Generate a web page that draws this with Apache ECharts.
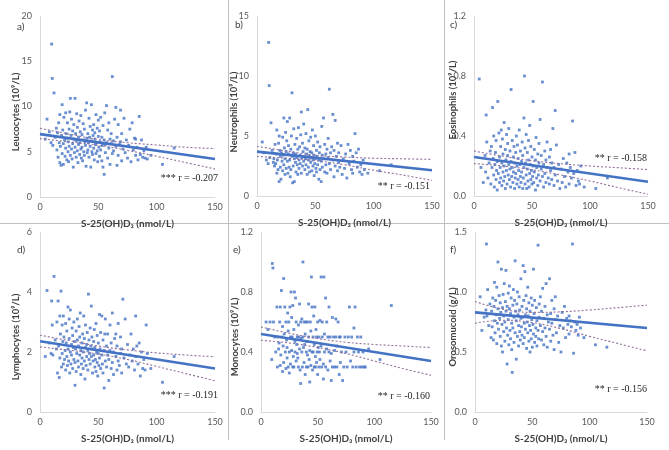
<!DOCTYPE html>
<html><head><meta charset="utf-8">
<script src="https://cdn.jsdelivr.net/npm/echarts@6/dist/echarts.min.js"></script>
<style>html,body{margin:0;padding:0;background:#fff}#c{width:669px;height:450px}</style>
</head><body><div id="c"></div><script>
// Shared x values: S-25(OH)D3 (nmol/L)
const vitD = [
 4.5, 6, 8, 9.5, 10, 10.5, 11, 12, 13, 14,
 14.5, 15, 15.5, 16, 16.5, 17, 17, 17.5, 18, 18.5, 19, 19, 19.5, 20, 20,
 20.5, 21, 21.5, 22, 22, 22.5, 23, 23, 23.5, 24, 24, 24.5, 25, 25, 25.5,
 26, 26, 26.5, 27, 27, 27.5, 28, 28, 28.5, 29, 29, 29.5, 30, 30, 30.5,
 31, 31, 31.5, 32, 32, 32.5, 33, 33, 33.5, 34, 34, 34.5, 35, 35, 35.5,
 36, 36, 36.5, 37, 37, 37.5, 38, 38, 38.5, 39, 39, 39.5, 40, 40, 40.5,
 41, 41, 41.5, 42, 42, 42.5, 43, 43, 43.5, 44, 44, 44.5, 45, 45, 45.5,
 46, 46, 46.5, 47, 47, 47.5, 48, 48, 48.5, 49, 49, 49.5, 50, 50, 50.5,
 51, 51, 51.5, 52, 52, 53, 53, 53.5, 54, 54, 55, 55, 55.5, 56, 56,
 57, 57, 58, 58, 59, 59, 60, 60, 61, 61, 62, 62, 63, 63, 64,
 65, 65, 66, 66, 67, 67, 68, 69, 69, 70, 70, 71, 72, 73, 74,
 75, 76, 77, 78, 79, 80, 81, 82, 82, 83, 84, 85, 86, 87, 88,
 89, 90, 91, 92, 95, 105, 115
];
const leucocytes = [
 6.4, 8.6, 7.2, 6.0, 16.9, 13.1, 5.7, 11.5, 6.6, 7.6,
 5.2, 7.1, 4.4, 8.2, 6.0, 3.8, 9.1, 5.6, 3.5, 6.8, 10.2, 4.8, 7.4, 3.6, 5.9,
 8.8, 6.3, 4.5, 9.3, 5.4, 7.0, 4.1, 6.5, 8.2, 5.0, 6.1, 3.9, 7.5, 5.6, 9.4,
 10.9, 4.6, 6.8, 5.3, 8.6, 4.2, 7.3, 5.9, 3.3, 6.4, 8.0, 4.9, 10.9, 5.5, 7.0,
 6.2, 4.4, 9.2, 5.1, 7.7, 3.8, 6.6, 5.8, 8.4, 4.7, 6.0, 7.2, 5.3, 9.0, 4.3,
 6.9, 5.5, 4.0, 8.1, 6.3, 5.0, 7.5, 4.6, 6.1, 9.6, 5.7, 3.4, 10.4, 6.5, 4.9,
 7.0, 5.2, 6.0, 8.7, 4.4, 6.6, 5.6, 7.8, 3.3, 10.2, 6.2, 5.0, 7.4, 4.7, 6.8,
 5.4, 8.0, 4.1, 6.4, 7.1, 5.8, 9.1, 4.8, 6.0, 7.6, 5.1, 3.9, 6.7, 8.5, 5.5,
 4.5, 7.3, 6.1, 5.2, 8.8, 6.6, 4.0, 5.7, 7.9, 3.3, 2.5, 6.3, 9.3, 4.9, 5.8,
 10.1, 6.0, 4.3, 7.4, 5.4, 8.2, 6.4, 3.6, 5.9, 7.0, 13.3, 4.8, 6.2, 5.1, 8.6,
 9.9, 5.6, 3.5, 6.6, 8.0, 4.6, 5.8, 9.6, 6.1, 4.0, 7.0, 5.3, 8.7, 4.9, 6.3,
 4.3, 5.7, 7.5, 3.9, 8.2, 5.2, 6.5, 4.6, 6.4, 5.5, 4.1, 8.9, 4.7, 6.3, 4.4,
 5.1, 4.3, 5.5, 4.2, 4.6, 3.6, 5.4
];
const neutrophils = [
 4.5, 3.6, 3.0, 2.7, 12.8, 9.2, 3.2, 6.1, 3.8, 2.8,
 3.1, 2.5, 4.3, 2.7, 3.5, 1.9, 5.5, 3.0, 2.2, 4.4, 5.0, 1.2, 3.8, 2.4, 3.3,
 1.4, 3.6, 2.9, 4.9, 2.1, 3.4, 6.5, 2.6, 4.0, 1.8, 3.1, 5.3, 2.3, 3.7, 4.6,
 2.9, 6.2, 1.9, 3.5, 4.2, 2.4, 6.5, 3.0, 1.6, 3.9, 2.2, 5.0, 8.6, 3.3, 1.1,
 3.6, 2.5, 5.6, 1.2, 3.1, 4.3, 2.8, 3.5, 2.0, 4.8, 3.2, 2.6, 3.9, 1.8, 5.7,
 3.0, 2.3, 4.1, 3.4, 2.7, 5.1, 7.0, 1.9, 3.2, 4.4, 2.5, 3.7, 2.9, 6.0, 3.3,
 4.0, 2.2, 3.1, 5.2, 2.6, 3.5, 1.8, 3.9, 7.2, 3.0, 2.4, 4.6, 3.3, 2.0, 3.7,
 2.8, 4.9, 3.2, 2.1, 3.6, 5.5, 2.5, 3.0, 4.2, 1.7, 3.4, 2.7, 5.0, 3.1, 2.3,
 3.8, 2.0, 3.3, 4.5, 2.6, 3.0, 1.4, 3.6, 2.2, 4.1, 1.2, 2.9, 5.8, 3.4, 2.4,
 6.5, 3.1, 2.0, 4.3, 3.5, 2.6, 3.9, 1.9, 3.2, 4.8, 8.9, 2.7, 3.6, 2.2, 4.1,
 6.8, 3.0, 1.6, 3.8, 6.3, 2.5, 3.3, 4.4, 2.1, 3.6, 2.8, 2.4, 4.2, 1.8, 3.1,
 2.3, 3.5, 1.5, 4.3, 2.7, 3.8, 2.2, 3.3, 1.9, 2.9, 5.2, 3.6, 2.4, 3.9, 2.0,
 2.6, 1.8, 3.0, 2.2, 1.9, 2.1, 2.6
];
const eosinophils = [
 0.78, 0.19, 0.09, 0.27, 0.16, 0.54, 0.36, 0.12, 0.22, 0.30,
 0.08, 0.33, 0.19, 0.59, 0.25, 0.14, 0.40, 0.06, 0.21, 0.29, 0.11, 0.37, 0.17, 0.04, 0.23,
 0.63, 0.15, 0.42, 0.09, 0.26, 0.19, 0.33, 0.12, 0.44, 0.07, 0.22, 0.38, 0.16, 0.28, 0.10,
 0.49, 0.20, 0.13, 0.31, 0.05, 0.24, 0.41, 0.17, 0.08, 0.27, 0.35, 0.14, 0.21, 0.45, 0.11,
 0.18, 0.30, 0.06, 0.71, 0.23, 0.13, 0.37, 0.19, 0.09, 0.26, 0.16, 0.33, 0.05, 0.22, 0.12,
 0.29, 0.15, 0.40, 0.08, 0.20, 0.34, 0.11, 0.25, 0.17, 0.06, 0.44, 0.21, 0.13, 0.30, 0.09,
 0.23, 0.16, 0.36, 0.05, 0.27, 0.12, 0.52, 0.19, 0.80, 0.08, 0.32, 0.22, 0.14, 0.41, 0.05,
 0.18, 0.29, 0.10, 0.24, 0.37, 0.06, 0.15, 0.47, 0.21, 0.11, 0.33, 0.17, 0.08, 0.26, 0.13,
 0.63, 0.20, 0.09, 0.31, 0.16, 0.04, 0.24, 0.39, 0.12, 0.19, 0.07, 0.28, 0.14, 0.22, 0.35,
 0.10, 0.51, 0.18, 0.27, 0.76, 0.13, 0.21, 0.06, 0.30, 0.15, 0.24, 0.09, 0.36, 0.19, 0.12,
 0.26, 0.08, 0.17, 0.31, 0.11, 0.22, 0.45, 0.07, 0.19, 0.57, 0.14, 0.34, 0.10, 0.21, 0.05,
 0.18, 0.09, 0.25, 0.13, 0.06, 0.22, 0.16, 0.28, 0.08, 0.19, 0.12, 0.50, 0.15, 0.29, 0.07,
 0.17, 0.10, 0.08, 0.20, 0.06, 0.05, 0.12
];
const lymphocytes = [
 1.85, 4.05, 2.3, 1.95, 3.7, 2.9, 1.9, 4.52, 2.4, 2.1,
 3.0, 1.3, 3.7, 2.2, 1.15, 3.2, 1.8, 2.6, 4.03, 1.5, 2.9, 1.95, 2.35, 1.6, 3.2,
 2.5, 1.75, 2.05, 2.95, 1.4, 2.3, 1.85, 2.7, 1.55, 3.5, 2.1, 1.7, 2.45, 3.1, 1.3,
 2.0, 3.4, 1.6, 2.25, 1.9, 2.8, 1.45, 2.55, 2.15, 1.75, 3.0, 2.35, 0.89, 1.65, 2.1,
 2.7, 1.35, 1.95, 2.4, 3.1, 1.7, 2.2, 1.5, 2.85, 1.9, 2.5, 3.3, 1.25, 2.05, 1.6,
 2.3, 1.8, 2.6, 1.45, 2.0, 3.2, 1.7, 2.45, 1.1, 2.15, 2.9, 1.55, 2.25, 1.85, 2.65,
 1.4, 2.05, 3.93, 1.75, 2.4, 1.95, 2.8, 1.6, 2.2, 3.53, 1.85, 2.5, 1.3, 2.1, 1.7,
 2.35, 1.9, 2.75, 1.5, 2.15, 1.75, 2.95, 1.35, 2.0, 1.65, 2.55, 1.2, 1.95, 2.3, 1.55,
 3.25, 1.8, 2.1, 1.45, 2.65, 1.9, 3.2, 1.6, 2.4, 1.3, 0.8, 2.05, 2.6, 1.7, 3.1,
 1.5, 2.2, 1.9, 2.6, 1.05, 1.75, 2.9, 2.05, 1.45, 2.3, 3.3, 1.65, 2.0, 1.25, 2.45,
 1.85, 2.6, 1.4, 2.2, 1.7, 2.95, 1.55, 2.5, 1.95, 1.3, 2.1, 3.76, 1.8, 3.1, 1.6,
 2.25, 1.5, 1.9, 2.6, 1.7, 2.1, 1.4, 3.2, 1.85, 2.2, 1.6, 2.3, 1.2, 2.0, 1.45,
 1.75, 1.4, 2.9, 1.95, 1.45, 0.99, 1.85
];
const monocytes = [
 0.6, 0.55, 0.6, 0.35, 0.99, 0.96, 0.6, 0.5, 0.4, 0.7,
 0.3, 0.5, 0.42, 0.46, 0.6, 0.31, 0.7, 0.38, 0.81, 0.5, 0.27, 0.57, 0.44, 0.89, 0.33,
 0.52, 0.7, 0.4, 0.29, 0.6, 0.48, 0.36, 0.43, 0.66, 0.3, 0.54, 0.6, 0.26, 0.4, 0.7,
 0.5, 0.32, 0.8, 0.41, 0.63, 0.5, 0.3, 0.71, 0.37, 0.55, 0.3, 0.8, 0.47, 0.4, 0.76,
 0.6, 0.34, 0.45, 0.5, 0.39, 0.36, 0.58, 0.3, 0.5, 0.72, 0.42, 0.28, 0.19, 0.6, 0.49,
 0.4, 0.62, 0.3, 1.0, 0.5, 0.43, 0.6, 0.33, 0.45, 0.52, 0.25, 0.6, 0.4, 0.3, 0.47,
 0.6, 0.38, 0.3, 0.72, 0.5, 0.35, 0.41, 0.2, 0.6, 0.31, 0.54, 0.9, 0.4, 0.7, 0.28,
 0.5, 0.4, 0.64, 0.3, 0.45, 0.7, 0.37, 0.3, 0.55, 0.5, 0.33, 0.4, 0.6, 0.25, 0.43,
 0.5, 0.3, 0.4, 0.61, 0.35, 0.9, 0.44, 0.3, 0.5, 0.6, 0.22, 0.32, 0.9, 0.4, 0.52,
 0.76, 0.3, 0.42, 0.6, 0.5, 0.28, 0.4, 0.7, 0.34, 0.5, 0.21, 0.39, 0.63, 0.3, 0.5,
 0.41, 0.3, 0.5, 0.62, 0.3, 0.44, 0.6, 0.5, 0.25, 0.33, 0.5, 0.4, 0.21, 0.3, 0.5,
 0.4, 0.3, 0.5, 0.7, 0.34, 0.5, 0.3, 0.4, 0.56, 0.7, 0.3, 0.5, 0.4, 0.3, 0.5,
 0.3, 0.4, 0.3, 0.3, 0.42, 0.35, 0.71
];
const orosomucoid = [
 0.96, 0.68, 0.79, 0.85, 1.40, 0.80, 1.02, 0.72, 0.90, 0.62,
 0.84, 0.71, 0.95, 0.60, 0.88, 0.76, 1.08, 0.66, 0.93, 0.81, 0.57, 1.04, 0.74, 1.25, 0.86,
 0.69, 0.97, 0.78, 0.63, 0.91, 0.83, 0.55, 1.19, 0.73, 0.87, 0.50, 0.98, 0.67, 0.80, 1.07,
 0.75, 0.59, 0.92, 0.84, 1.18, 0.70, 0.40, 0.88, 0.64, 0.99, 0.77, 0.56, 0.86, 1.05, 0.68,
 0.82, 0.61, 0.95, 0.74, 0.52, 0.33, 0.89, 0.70, 1.02, 0.79, 0.58, 0.93, 0.66, 1.26, 0.84,
 0.44, 0.76, 0.90, 0.63, 1.00, 0.81, 0.55, 0.72, 0.96, 0.67, 0.85, 0.60, 0.78, 1.11, 0.71,
 0.88, 0.64, 0.79, 1.22, 0.57, 0.93, 0.74, 0.62, 1.17, 0.81, 0.69, 0.97, 0.53, 0.86, 0.75,
 0.66, 1.04, 0.80, 0.59, 0.91, 0.72, 0.50, 0.84, 0.68, 0.95, 0.61, 0.77, 0.89, 0.54, 0.73,
 1.19, 0.65, 0.82, 0.58, 0.93, 0.70, 0.63, 0.87, 0.55, 0.76, 1.39, 0.68, 0.61, 0.90, 0.79,
 0.72, 0.96, 0.60, 0.84, 0.67, 1.03, 0.78, 0.56, 0.88, 0.70, 0.63, 1.07, 0.81, 0.54, 0.75,
 1.11, 0.69, 0.82, 0.59, 0.93, 0.74, 0.64, 0.86, 0.52, 0.77, 0.96, 0.66, 0.80, 0.58, 0.72,
 0.50, 0.83, 0.70, 0.88, 0.62, 0.78, 0.73, 0.65, 0.80, 0.76, 0.71, 1.40, 0.49, 0.75, 0.68,
 0.73, 0.64, 0.79, 0.70, 0.62, 0.56, 0.54
];

// Regression lines (endpoints) and 95% confidence bands
const fitX = [0, 150];
const bandX = [0, 25, 50, 75, 100, 125, 150];
const leucocytesFit = [6.95, 4.2];
const leucocytesUpper = [7.6, 6.95, 6.35, 6.0, 5.75, 5.5, 5.35];
const leucocytesLower = [6.45, 6.1, 5.72, 5.15, 4.5, 3.8, 3.1];
const neutrophilsFit = [3.7, 2.15];
const neutrophilsUpper = [4.15, 3.75, 3.4, 3.25, 3.15, 3.1, 3.05];
const neutrophilsLower = [3.3, 3.15, 2.95, 2.6, 2.15, 1.75, 1.3];
const eosinophilsFit = [0.26, 0.095];
const eosinophilsUpper = [0.30, 0.265, 0.235, 0.215, 0.2, 0.188, 0.176];
const eosinophilsLower = [0.216, 0.2, 0.175, 0.14, 0.1, 0.055, 0.012];
const lymphocytesFit = [2.36, 1.45];
const lymphocytesUpper = [2.56, 2.38, 2.2, 2.07, 1.97, 1.9, 1.84];
const lymphocytesLower = [2.17, 2.06, 1.93, 1.75, 1.52, 1.28, 1.04];
const monocytesFit = [0.52, 0.34];
const monocytesUpper = [0.567, 0.525, 0.49, 0.465, 0.45, 0.44, 0.43];
const monocytesLower = [0.478, 0.46, 0.43, 0.39, 0.34, 0.29, 0.245];
const orosomucoidFit = [0.83, 0.70];
const orosomucoidUpper = [0.92, 0.855, 0.83, 0.835, 0.85, 0.87, 0.89];
const orosomucoidLower = [0.74, 0.765, 0.745, 0.695, 0.63, 0.57, 0.51];

const xTicks = {min: 0, max: 150, interval: 50};
const panelTags = ['a)', 'b)', 'c)', 'd)', 'e)', 'f)'];
const yTitles = ['Leucocytes (10⁹/L)', 'Neutrophils (10⁹/L)', 'Eosinophils (10⁹/L)',
                 'Lymphocytes (10⁹/L)', 'Monocytes (10⁹/L)', 'Orosomucoid (g/L)'];
const rLabels = ['*** r = -0.207', '** r = -0.151', '** r = -0.158',
                 '*** r = -0.191', '** r = -0.160', '** r = -0.156'];
const yScales = [
  {min: 0, max: 20, interval: 5, dec: 0},
  {min: 0, max: 15, interval: 5, dec: 0},
  {min: 0, max: 1.2, interval: 0.4, dec: 1},
  {min: 0, max: 6, interval: 2, dec: 0},
  {min: 0, max: 1.2, interval: 0.4, dec: 1},
  {min: 0, max: 1.5, interval: 0.5, dec: 1}
];
const ySeries = [leucocytes, neutrophils, eosinophils, lymphocytes, monocytes, orosomucoid];
const fits = [leucocytesFit, neutrophilsFit, eosinophilsFit, lymphocytesFit, monocytesFit, orosomucoidFit];
const uppers = [leucocytesUpper, neutrophilsUpper, eosinophilsUpper, lymphocytesUpper, monocytesUpper, orosomucoidUpper];
const lowers = [leucocytesLower, neutrophilsLower, eosinophilsLower, lymphocytesLower, monocytesLower, orosomucoidLower];
const xTitle = 'S-25(OH)D₃ (nmol/L)';

// Layout (pixels)
const layout = [
  {left: 40,  top: 16,  width: 175, height: 181, tag: [17, 27],  yt: [16, 112],  r: [218, 178]},
  {left: 257, top: 16,  width: 175, height: 180, tag: [235, 25], yt: [234, 112], r: [430, 186]},
  {left: 474, top: 16,  width: 174, height: 180, tag: [450, 25], yt: [453, 100], r: [647, 158]},
  {left: 40,  top: 232, width: 175, height: 180, tag: [17, 250], yt: [16, 337],  r: [218, 395]},
  {left: 261, top: 232, width: 170, height: 180, tag: [233, 250], yt: [235, 337], r: [430, 396]},
  {left: 475, top: 232, width: 172, height: 180, tag: [450, 250], yt: [453, 327], r: [647, 389]}
];

const FONT = 'Lato, "DejaVu Sans", sans-serif';
const BLUE = '#4472c4';
const BAND = '#8f6f98';

const grid = [], xAxis = [], yAxis = [], series = [], graphic = [];
layout.forEach((L, i) => {
  grid.push({left: L.left, top: L.top, width: L.width, height: L.height, containLabel: false});
  xAxis.push({
    type: 'value', gridIndex: i, min: xTicks.min, max: xTicks.max, interval: xTicks.interval,
    axisLine: {show: true, lineStyle: {color: '#d9d9d9', width: 1}},
    axisTick: {show: false}, splitLine: {show: false},
    axisLabel: {color: '#595959', fontSize: 9, fontFamily: FONT, margin: 6},
    name: xTitle, nameLocation: 'middle', nameGap: 22,
    nameTextStyle: {color: '#404040', fontSize: 10, fontWeight: 'bold', fontFamily: FONT}
  });
  const ys = yScales[i];
  yAxis.push({
    type: 'value', gridIndex: i, min: ys.min, max: ys.max, interval: ys.interval,
    axisLine: {show: true, lineStyle: {color: '#d9d9d9', width: 1}},
    axisTick: {show: false}, splitLine: {show: false},
    axisLabel: {color: '#595959', fontSize: 9, fontFamily: FONT, margin: 8,
      formatter: v => v.toFixed(ys.dec)}
  });
  const pts = [];
  for (let k = 0; k < vitD.length && k < ySeries[i].length; k++) pts.push([vitD[k], ySeries[i][k]]);
  series.push({type: 'scatter', xAxisIndex: i, yAxisIndex: i, data: pts, symbol: 'rect',
    symbolSize: 2.8, itemStyle: {color: BLUE}, silent: true, z: 2});
  series.push({type: 'line', xAxisIndex: i, yAxisIndex: i, data: bandX.map((x, k) => [x, uppers[i][k]]),
    smooth: 0.4, symbol: 'none', lineStyle: {color: BAND, width: 1.1, type: [2, 2]}, silent: true, z: 3});
  series.push({type: 'line', xAxisIndex: i, yAxisIndex: i, data: bandX.map((x, k) => [x, lowers[i][k]]),
    smooth: 0.4, symbol: 'none', lineStyle: {color: BAND, width: 1.1, type: [2, 2]}, silent: true, z: 3});
  series.push({type: 'line', xAxisIndex: i, yAxisIndex: i, data: fitX.map((x, k) => [x, fits[i][k]]),
    symbol: 'none', lineStyle: {color: BLUE, width: 2.6}, silent: true, z: 4});

  graphic.push({type: 'text', x: L.tag[0], y: L.tag[1],
    style: {text: panelTags[i], fill: '#404040', font: '10px ' + FONT, textAlign: 'left', textVerticalAlign: 'middle'}});
  graphic.push({type: 'text', x: L.yt[0], y: L.yt[1], rotation: Math.PI / 2,
    style: {text: yTitles[i], fill: '#404040', font: 'bold 9.5px ' + FONT, textAlign: 'center', textVerticalAlign: 'middle'}});
  graphic.push({type: 'text', x: L.r[0], y: L.r[1],
    style: {text: rLabels[i], fill: '#262626', font: '10px "Liberation Serif", serif', textAlign: 'right', textVerticalAlign: 'middle'}});
});
// panel separators
graphic.push({type: 'line', shape: {x1: 228.5, y1: 0, x2: 228.5, y2: 440}, style: {stroke: '#bfbfbf', lineWidth: 1}});
graphic.push({type: 'line', shape: {x1: 444.5, y1: 0, x2: 444.5, y2: 440}, style: {stroke: '#bfbfbf', lineWidth: 1}});
graphic.push({type: 'line', shape: {x1: 0, y1: 223.5, x2: 669, y2: 223.5}, style: {stroke: '#bfbfbf', lineWidth: 1}});

const chart = echarts.init(document.getElementById('c'), null, {renderer: 'canvas'});
chart.setOption({animation: false, backgroundColor: '#fff', grid, xAxis, yAxis, series, graphic});
</script></body></html>
